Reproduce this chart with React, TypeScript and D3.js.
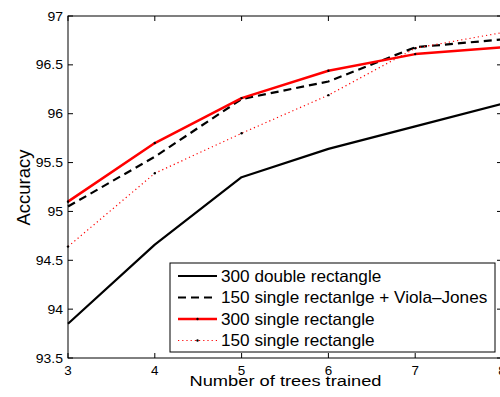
import React, { useEffect, useRef } from "react";
import * as d3 from "d3";

const trees = [3, 4, 5, 6, 7, 8];
const doubleRect300 = [93.85, 94.66, 95.35, 95.64, 95.87, 96.1];
const singleVJ150 = [95.05, 95.56, 96.15, 96.33, 96.68, 96.76];
const singleRect300 = [95.1, 95.7, 96.16, 96.44, 96.61, 96.68];
const singleRect150 = [94.64, 95.39, 95.8, 96.19, 96.67, 96.83];
const yTicks = [93.5, 94, 94.5, 95, 95.5, 96, 96.5, 97];

const series = [
  { name: "300 double rectangle", values: doubleRect300, color: "#000", width: 2.2, dash: null, dot: false },
  { name: "150 single rectanlge + Viola\u2013Jones", values: singleVJ150, color: "#000", width: 2.2, dash: "8,5", dot: false },
  { name: "300 single rectangle", values: singleRect300, color: "#ff0000", width: 2.5, dash: null, dot: true },
  { name: "150 single rectangle", values: singleRect150, color: "#ff0000", width: 1.2, dash: "1.2,3", dot: true },
];

export default function App() {
  const ref = useRef<SVGSVGElement>(null);

  useEffect(() => {
    const svg = d3.select(ref.current);
    svg.selectAll("*").remove();
    const left = 68, right = 502, top = 16, bottom = 358;
    const font = "'Liberation Sans', Arial, sans-serif";

    const x = d3.scaleLinear().domain([3, 8]).range([left, right]);
    const y = d3.scaleLinear().domain([93.5, 97]).range([bottom, top]);

    const g = svg.append("g");
    const line = d3.line<number>().x((d, i) => x(trees[i])).y(d => y(d));

    // text is a bit wider than plain Arial in the original, so stretch it
    const label = (parent, tx, ty, txt, size, anchor, sx, rot = 0) =>
      parent.append("text")
        .attr("transform", `translate(${tx},${ty}) rotate(${rot}) scale(${sx},1)`)
        .attr("text-anchor", anchor)
        .attr("font-family", font)
        .attr("font-size", size)
        .text(txt);

    series.forEach(s => {
      g.append("path")
        .attr("d", line(s.values))
        .attr("fill", "none")
        .attr("stroke", s.color)
        .attr("stroke-width", s.width)
        .attr("stroke-dasharray", s.dash)
        .attr("stroke-linejoin", "round");
      if (s.dot) {
        g.selectAll(null)
          .data(s.values)
          .enter()
          .append("circle")
          .attr("cx", (d, i) => x(trees[i]))
          .attr("cy", d => y(d))
          .attr("r", 1.2)
          .attr("fill", "#000");
      }
    });

    // frame
    g.append("rect")
      .attr("x", left).attr("y", top)
      .attr("width", right - left).attr("height", bottom - top)
      .attr("fill", "none").attr("stroke", "#000").attr("stroke-width", 1);

    // ticks (inward, on all sides)
    trees.forEach(t => {
      g.append("line").attr("x1", x(t)).attr("x2", x(t)).attr("y1", bottom).attr("y2", bottom - 5).attr("stroke", "#000");
      g.append("line").attr("x1", x(t)).attr("x2", x(t)).attr("y1", top).attr("y2", top + 5).attr("stroke", "#000");
      label(g, x(t), 375, t, 12, "middle", 1.12);
    });
    yTicks.forEach(v => {
      g.append("line").attr("x1", left).attr("x2", left + 5).attr("y1", y(v)).attr("y2", y(v)).attr("stroke", "#000");
      g.append("line").attr("x1", right).attr("x2", right - 5).attr("y1", y(v)).attr("y2", y(v)).attr("stroke", "#000");
      label(g, left - 5, y(v) + 4.6, v, 12.5, "end", 1.12);
    });

    // axis labels
    label(g, 285.5, 386, "Number of trees trained", 15.5, "middle", 1.18);
    label(g, 29.5, 187.5, "Accuracy", 18.5, "middle", 1, -90);

    // legend
    const lx = 170, ly = 263, lw = 325, lh = 89;
    const lg = g.append("g");
    lg.append("rect")
      .attr("x", lx).attr("y", ly).attr("width", lw).attr("height", lh)
      .attr("fill", "#fff").attr("stroke", "#000").attr("stroke-width", 1);
    series.forEach((s, i) => {
      const cy = 276 + i * 21.5;
      lg.append("line")
        .attr("x1", 178).attr("x2", 217).attr("y1", cy).attr("y2", cy)
        .attr("stroke", s.color).attr("stroke-width", s.width)
        .attr("stroke-dasharray", s.dash);
      if (s.dot) {
        lg.append("circle").attr("cx", 197.5).attr("cy", cy).attr("r", 1.2).attr("fill", "#000");
      }
      label(lg, 221, cy + 5.7, s.name, 16.5, "start", 1.04);
    });
  }, []);

  return (
    <svg
      ref={ref}
      width={500}
      height={397}
      style={{ position: "absolute", left: 0, top: 0, background: "#fff" }}
    />
  );
}
